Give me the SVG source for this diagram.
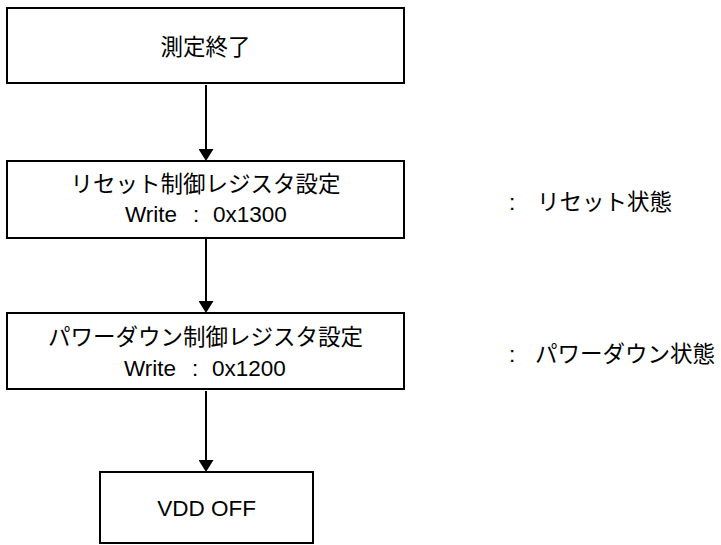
<svg xmlns="http://www.w3.org/2000/svg" width="721" height="545" viewBox="0 0 721 545">
<style>
.box{fill:#fff;stroke:#000;stroke-width:2}
.t{font-family:"Liberation Sans","Noto Sans CJK JP",sans-serif;font-size:22.5px;fill:#000}
.c{text-anchor:middle}
.conn{stroke:#000;stroke-width:2;fill:none}
</style>
<defs>
<marker id="ah" markerUnits="userSpaceOnUse" viewBox="0 0 12 15" markerWidth="12" markerHeight="15" refX="6" refY="7.5" orient="auto">
<path d="M0,0 L12,7.5 L0,15 z" fill="#000"/>
</marker>
</defs>
<rect width="721" height="545" fill="#fff"/>
<g id="connectors">
<line class="conn" x1="206" y1="85" x2="206" y2="155" marker-end="url(#ah)"/>
<line class="conn" x1="206" y1="239" x2="206" y2="307" marker-end="url(#ah)"/>
<line class="conn" x1="206" y1="391" x2="206" y2="466" marker-end="url(#ah)"/>
</g>
<g id="n1">
<rect class="box" x="7" y="8" width="397" height="75"/>
<text class="t c" x="205.5" y="54.5">測定終了</text>
</g>
<g id="n2">
<rect class="box" x="7" y="161" width="397" height="77"/>
<text class="t c" x="205.5" y="192">リセット制御レジスタ設定</text>
<text class="t" y="222"><tspan x="125">Write</tspan><tspan x="193">:</tspan><tspan x="213">0x1300</tspan></text>
</g>
<g id="n3">
<rect class="box" x="7" y="313" width="397" height="76"/>
<text class="t c" x="205.5" y="345">パワーダウン制御レジスタ設定</text>
<text class="t" y="376"><tspan x="124">Write</tspan><tspan x="192">:</tspan><tspan x="212">0x1200</tspan></text>
</g>
<g id="n4">
<rect class="box" x="100" y="472" width="213" height="71"/>
<text class="t c" x="206.5" y="516">VDD OFF</text>
</g>
<g id="labels">
<text class="t" y="210"><tspan x="509">:</tspan><tspan x="537">リセット状態</tspan></text>
<text class="t" y="362"><tspan x="509">:</tspan><tspan x="535">パワーダウン状態</tspan></text>
</g>
</svg>
